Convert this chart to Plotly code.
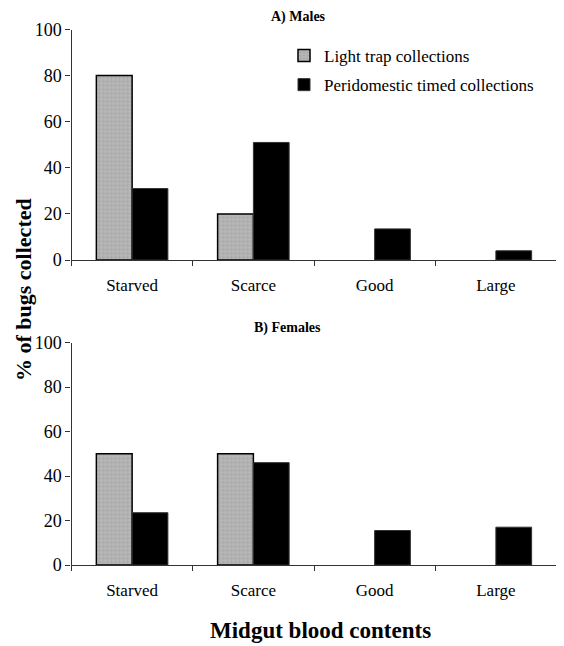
import plotly.graph_objects as go

categories = ["Starved", "Scarce", "Good", "Large"]
males_light = [80, 20, 0, 0]
males_peri = [31, 51, 13.5, 4]
females_light = [50, 50, 0, 0]
females_peri = [23.5, 46, 15.5, 17]
y_ticks = [0, 20, 40, 60, 80, 100]

FONT = "Liberation Serif, Times New Roman, Times, serif"
OFF = 8  # default page body margin
W, H = 564 - OFF, 646 - OFF


def px(x):
    return min(1.0, max(0.0, (x - OFF) / W))


def py(y):
    return min(1.0, max(0.0, (H - (y - OFF)) / H))


def light_marker(vals):
    return dict(color="#a9a9a9",
                line=dict(color="black", width=[1.5 if v > 0 else 0 for v in vals]),
                pattern=dict(shape="+", fgcolor="#d9d9d9", bgcolor="#a9a9a9", size=4, solidity=0.35))


def peri_marker(vals):
    return dict(color="black", line=dict(color="#333333", width=[1 if v > 0 else 0 for v in vals]))


fig = go.Figure()
fig.add_trace(go.Bar(x=categories, y=males_light, name="Light trap collections",
                     marker=light_marker(males_light), xaxis="x", yaxis="y", legendgroup="a"))
fig.add_trace(go.Bar(x=categories, y=males_peri, name="Peridomestic timed collections",
                     marker=peri_marker(males_peri), xaxis="x", yaxis="y", legendgroup="b"))
fig.add_trace(go.Bar(x=categories, y=females_light, name="Light trap collections",
                     marker=light_marker(females_light), xaxis="x2", yaxis="y2", showlegend=False))
fig.add_trace(go.Bar(x=categories, y=females_peri, name="Peridomestic timed collections",
                     marker=peri_marker(females_peri), xaxis="x2", yaxis="y2", showlegend=False))

xd = [px(71.5), px(556.5)]
y1d = [py(260), py(29.5)]
y2d = [py(565), py(342.5)]

xaxis_common = dict(domain=xd, showline=True, linecolor="#333", linewidth=1.2,
                    ticks="outside", tickson="boundaries", ticklen=5, tickcolor="#333",
                    showgrid=False, tickfont=dict(family=FONT, size=17, color="black"),
                    ticklabelstandoff=9, automargin=False)
yaxis_common = dict(range=[0, 100], tickvals=y_ticks, showline=True, linecolor="#333", linewidth=1.2,
                    ticks="outside", ticklen=5, tickcolor="#333", showgrid=False, zeroline=False,
                    tickfont=dict(family=FONT, size=18, color="black"), automargin=False)

fig.update_layout(
    width=W, height=H,
    margin=dict(l=0, r=0, t=0, b=0),
    paper_bgcolor="white", plot_bgcolor="white",
    barmode="group", bargap=0.41, bargroupgap=0,
    font=dict(family=FONT, color="black"),
    xaxis=dict(**xaxis_common, anchor="y"),
    yaxis=dict(**yaxis_common, domain=y1d, anchor="x"),
    xaxis2=dict(**xaxis_common, anchor="y2"),
    yaxis2=dict(**yaxis_common, domain=y2d, anchor="x2"),
    legend=dict(x=px(284), y=py(38), xanchor="left", yanchor="top",
                font=dict(family=FONT, size=17, color="black"),
                bgcolor="rgba(0,0,0,0)", tracegroupgap=4),
    annotations=[
        dict(text="<b>A) Males</b>", x=px(298), y=py(17), xref="paper", yref="paper",
             xanchor="center", yanchor="middle",
             showarrow=False, font=dict(family=FONT, size=14)),
        dict(text="<b>B) Females</b>", x=px(287), y=py(328), xref="paper", yref="paper",
             xanchor="center", yanchor="middle",
             showarrow=False, font=dict(family=FONT, size=14)),
        dict(text="<b>% of bugs collected</b>", x=px(23), y=py(290), xref="paper", yref="paper",
             xanchor="center", yanchor="middle",
             showarrow=False, textangle=-90, font=dict(family=FONT, size=22)),
        dict(text="<b>Midgut blood contents</b>", x=px(320), y=py(630), xref="paper", yref="paper",
             xanchor="center", yanchor="middle",
             showarrow=False, font=dict(family=FONT, size=23)),
    ],
)

fig.write_html("out.html")
